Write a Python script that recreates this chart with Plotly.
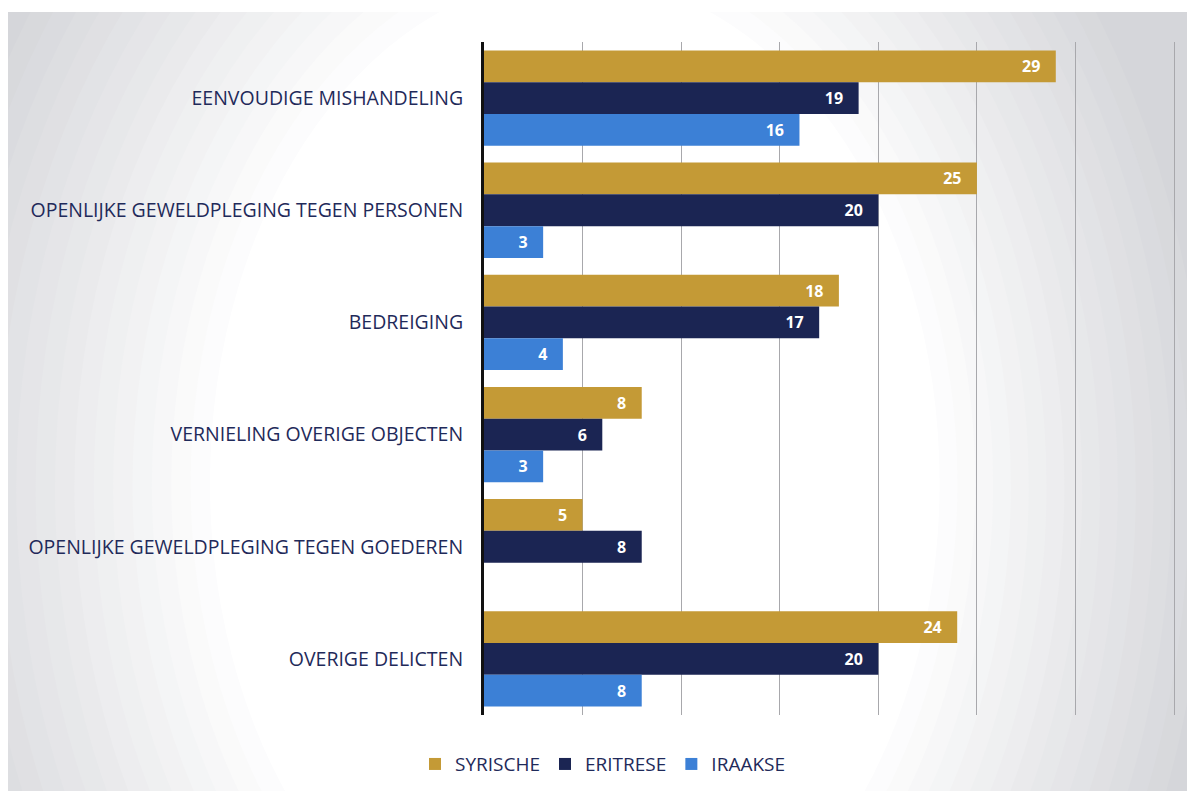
import plotly.graph_objects as go

categories = [
    "EENVOUDIGE MISHANDELING",
    "OPENLIJKE GEWELDPLEGING TEGEN PERSONEN",
    "BEDREIGING",
    "VERNIELING OVERIGE OBJECTEN",
    "OPENLIJKE GEWELDPLEGING TEGEN GOEDEREN",
    "OVERIGE DELICTEN",
]
syrische = [29, 25, 18, 8, 5, 24]
eritrese = [19, 20, 17, 6, 8, 20]
iraakse = [16, 3, 4, 3, None, 8]

series = [
    ("SYRISCHE", syrische, "#C49A36"),
    ("ERITRESE", eritrese, "#1B2553"),
    ("IRAAKSE", iraakse, "#3C80D6"),
]

W, H = 1187, 791
ML, MR, MT, MB = 484, 7, 42, 76
PW, PH = W - ML - MR, H - MT - MB


def px(x):
    return (x - ML) / PW


def py(y):
    return 1 - (y - MT) / PH


fig = go.Figure()
for name, vals, col in series:
    fig.add_trace(go.Bar(
        y=categories, x=vals, name=name, orientation="h",
        marker=dict(color=col, line=dict(width=0)),
        text=[("" if v is None else str(v) + "\u00a0\u00a0\u00a0") for v in vals],
        textposition="inside", insidetextanchor="end",
        textfont=dict(color="white", size=16, family="Open Sans", weight="bold"),
        cliponaxis=False, hoverinfo="skip",
    ))

# soft vignette background (scanned-page look)
shapes = [dict(type="rect", xref="paper", yref="paper", x0=px(8), x1=px(1187),
               y0=py(791), y1=py(12), fillcolor="#D5D6DA", line=dict(width=0), layer="below")]
n = 16
c0 = (213, 214, 218)
for i in range(1, n + 1):
    t = i / n
    r = [round(c + (255 - c) * t) for c in c0]
    col = "rgb(%d,%d,%d)" % tuple(r)
    cx, cy = 590, 470
    rx = 690 - 310 * t
    ry = 900 - 380 * t
    shapes.append(dict(type="circle", xref="paper", yref="paper",
                       x0=px(cx - rx), x1=px(cx + rx * 0.92),
                       y0=py(cy + ry), y1=py(cy - ry * 0.95),
                       fillcolor=col, line=dict(width=0), layer="below"))
# white outer strips (top and left of the scan)
shapes.append(dict(type="rect", xref="paper", yref="paper", x0=px(0), x1=px(1187),
                   y0=py(12), y1=py(0), fillcolor="white", line=dict(width=0), layer="below"))
shapes.append(dict(type="rect", xref="paper", yref="paper", x0=px(0), x1=px(8),
                   y0=py(791), y1=py(0), fillcolor="white", line=dict(width=0), layer="below"))

fig.update_layout(
    width=W, height=H,
    margin=dict(l=ML, r=MR, t=MT, b=MB),
    paper_bgcolor="white", plot_bgcolor="rgba(0,0,0,0)",
    barmode="group", bargap=0.15, bargroupgap=0,
    font=dict(family="Open Sans", color="#1F2A5A"),
    showlegend=True,
    legend=dict(orientation="h", xref="container", yref="container",
                x=0.508, xanchor="center", y=0.034, yanchor="middle",
                font=dict(size=19, color="#1F2A5A"), itemwidth=30,
                bgcolor="rgba(0,0,0,0)"),
    shapes=shapes,
    uniformtext=dict(minsize=16, mode="show"),
)
fig.update_xaxes(range=[0, 35.3], dtick=5, showticklabels=False,
                 showgrid=True, gridcolor="#A8A8AC", gridwidth=1,
                 zeroline=False, showline=False, automargin=False)
fig.update_yaxes(autorange="reversed", showgrid=False, showline=True,
                 linecolor="#111111", linewidth=3, ticks="",
                 ticklabelstandoff=14, automargin=False,
                 tickfont=dict(size=19.5, color="#1F2A5A"))

fig.write_html("out.html", config={"displayModeBar": False},
               post_script="document.body.style.margin='0';")
